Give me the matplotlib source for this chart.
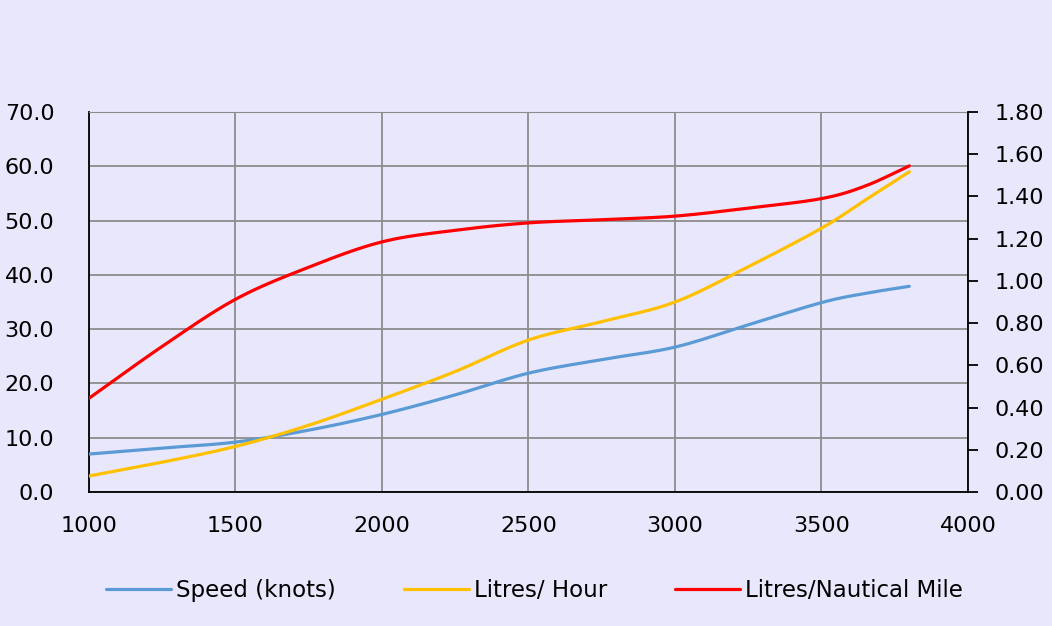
#!/usr/bin/env python3
# -*- coding: utf-8 -*-

import numpy as np
import matplotlib
matplotlib.use("Agg")
import matplotlib.pyplot as plt

# data
rpm = [1000, 1250, 1500, 1750, 2000, 2250, 2500, 2750, 3000, 3250, 3500, 3650, 3800]
speed_knots = [7.0, 8.1, 9.2, 11.4, 14.3, 17.9, 21.9, 24.4, 26.7, 30.8, 34.9, 36.6, 37.9]
litres_hour = [2.95, 5.5, 8.4, 12.3, 17.1, 22.2, 28.0, 31.4, 35.0, 41.5, 48.6, 53.8, 59.0]
litres_nm = [0.444, 0.69, 0.913, 1.065, 1.185, 1.24, 1.275, 1.29, 1.307, 1.345, 1.39, 1.45, 1.545]

left_ticks = [0, 10, 20, 30, 40, 50, 60, 70]
right_ticks = [0.0, 0.2, 0.4, 0.6, 0.8, 1.0, 1.2, 1.4, 1.6, 1.8]
x_ticks = [1000, 1500, 2000, 2500, 3000, 3500, 4000]

BG = "#E9E7FB"
GRID = "#8C8C8C"

plt.rcParams["font.family"] = "DejaVu Sans"


def smooth(x, y, n=20):
    # catmull-rom style smoothing, similar to spreadsheet "smoothed line"
    x = np.asarray(x, float)
    y = np.asarray(y, float)
    px = np.concatenate([[2 * x[0] - x[1]], x, [2 * x[-1] - x[-2]]])
    py = np.concatenate([[2 * y[0] - y[1]], y, [2 * y[-1] - y[-2]]])
    xs, ys = [], []
    t = np.linspace(0, 1, n)
    for i in range(1, len(px) - 2):
        for p, out in ((px, xs), (py, ys)):
            p0, p1, p2, p3 = p[i - 1], p[i], p[i + 1], p[i + 2]
            seg = 0.5 * (2 * p1 + (-p0 + p2) * t
                         + (2 * p0 - 5 * p1 + 4 * p2 - p3) * t ** 2
                         + (-p0 + 3 * p1 - 3 * p2 + p3) * t ** 3)
            out.extend(seg)
    return np.array(xs), np.array(ys)


fig = plt.figure(figsize=(10.52, 6.26), dpi=100, facecolor=BG)
ax = fig.add_axes([0.0846, 0.214, 0.8355, 0.607])
ax.set_facecolor(BG)
ax2 = ax.twinx()

lines = []
for vals, color, label in (
    (speed_knots, "#5B9BD5", "Speed (knots)"),
    (litres_hour, "#FFC000", "Litres/ Hour"),
):
    sx, sy = smooth(rpm, vals)
    (ln,) = ax.plot(sx, sy, color=color, linewidth=2.3, label=label,
                    solid_capstyle="round", zorder=3)
    lines.append(ln)

sx, sy = smooth(rpm, litres_nm)
(ln,) = ax2.plot(sx, sy, color="#FF0000", linewidth=2.3,
                 label="Litres/Nautical Mile", solid_capstyle="round")
lines.append(ln)

ax.set_xlim(1000, 4000)
ax.set_ylim(0, 70)
ax2.set_ylim(0, 1.8)
ax.set_xticks(x_ticks)
ax.set_yticks(left_ticks)
ax.set_yticklabels(["{:.1f}".format(v) for v in left_ticks])
ax2.set_yticks(right_ticks)
ax2.set_yticklabels(["{:.2f}".format(v) for v in right_ticks])

ax.grid(True, color=GRID, linewidth=1.3)
ax.set_axisbelow(True)

ax.spines["top"].set_color(GRID)
ax2.spines["top"].set_visible(False)
ax.spines["right"].set_visible(False)
ax2.spines["left"].set_visible(False)
ax2.spines["bottom"].set_visible(False)
for a, s in ((ax, "left"), (ax, "bottom"), (ax2, "right")):
    a.spines[s].set_color("black")
    a.spines[s].set_linewidth(1.3)

ax.tick_params(axis="both", length=0, labelsize=16, colors="black")
ax.tick_params(axis="x", pad=17)
ax.tick_params(axis="y", pad=25)
ax2.tick_params(axis="y", length=7, width=1.3, direction="out",
                labelsize=16, pad=12)

fig.legend(lines, [l.get_label() for l in lines], loc="center",
           bbox_to_anchor=(0.508, 0.057), ncol=3, frameon=False,
           prop={"family": "DejaVu Sans", "size": 16.5}, handlelength=2.85,
           columnspacing=2.97, handletextpad=0.2)

fig.savefig("out.png", dpi=100, facecolor=BG)
